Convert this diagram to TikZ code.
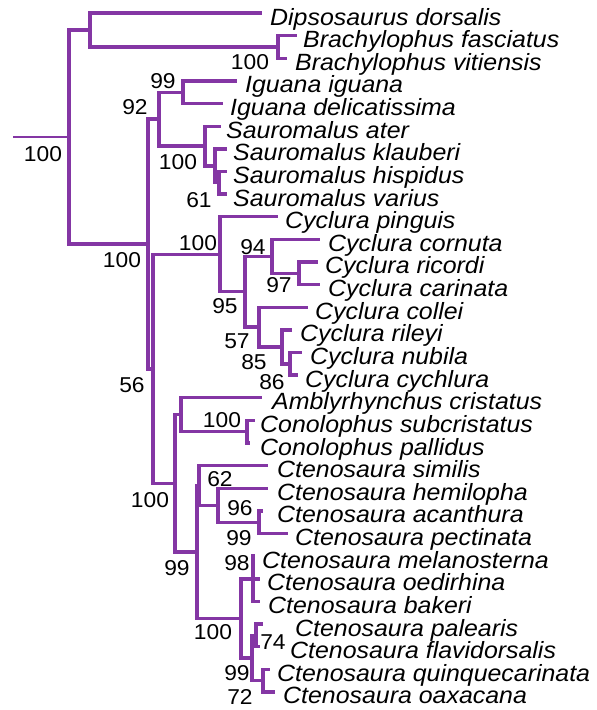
\documentclass[tikz,border=0pt]{standalone}
\usepackage{fontspec}
\setmainfont{Liberation Sans}
\newfontfamily\taxfont{Liberation Sans}[FakeStretch=1.06]
\usepackage{xcolor}
\definecolor{TPurple}{HTML}{8436A4}
\tikzset{
  branch/.style={draw=TPurple,line width=3.4pt},
  taxlbl/.style={anchor=base west,inner sep=0pt,font=\taxfont\fontsize{23.5}{23.5}\selectfont\itshape},
  bslbl/.style={inner sep=0pt,font=\taxfont\fontsize{21.5}{21.5}\selectfont}}
% tip coordinate + species label
\newcommand{\taxon}[5]{%
  \coordinate (t-#1) at (#2,#3);
  \node[taxlbl] (n-#1) at (#4,#3+12) {#5};}

\begin{document}
\begin{tikzpicture}[x=1pt,y=-1pt]
  \useasboundingbox (0,0) rectangle (597,710);
  % internal nodes
  \coordinate (base) at (13,137.0);
  \coordinate (root) at (69,137.0);
  \coordinate (nA) at (90,30.0);
  \coordinate (nBrach) at (278,47.0);
  \coordinate (nB) at (148,243.9);
  \coordinate (n92) at (159,119.1);
  \coordinate (nIg) at (183,92.2);
  \coordinate (nSau) at (205,146.0);
  \coordinate (nSsub) at (215,165.8);
  \coordinate (nS61) at (219,182.7);
  \coordinate (n56) at (153,368.8);
  \coordinate (nCyc) at (220,254.2);
  \coordinate (nC95) at (245,291.7);
  \coordinate (nC94) at (272,256.3);
  \coordinate (nC97) at (299,273.3);
  \coordinate (nC57) at (259,327.0);
  \coordinate (nC85) at (282,346.8);
  \coordinate (nC86) at (290,363.8);
  \coordinate (nAMC) at (175,483.3);
  \coordinate (nAC) at (181,414.7);
  \coordinate (nCon) at (247,431.7);
  \coordinate (nCt99) at (197,551.9);
  \coordinate (nCtS) at (199,485.4);
  \coordinate (nCt62) at (218,505.2);
  \coordinate (nCt96) at (259,522.2);
  \coordinate (nCt100) at (241,618.4);
  \coordinate (nCt98) at (253,578.8);
  \coordinate (nCt99b) at (252,658.0);
  \coordinate (nCt74) at (256,635.3);
  \coordinate (nCt72) at (263,680.6);
  % tips
  \taxon{dip}{262}{13.0}{270}{Dipsosaurus dorsalis}
  \taxon{bfa}{297}{35.6}{303}{Brachylophus fasciatus}
  \taxon{bvi}{287}{58.3}{295}{Brachylophus vitiensis}
  \taxon{iig}{237}{80.9}{245}{Iguana iguana}
  \taxon{ide}{223}{103.5}{230}{Iguana delicatissima}
  \taxon{sat}{221}{126.2}{226}{Sauromalus ater}
  \taxon{skl}{227}{148.8}{233}{Sauromalus klauberi}
  \taxon{shi}{227}{171.4}{233}{Sauromalus hispidus}
  \taxon{sva}{227}{194.0}{233}{Sauromalus varius}
  \taxon{cpi}{278}{216.7}{285}{Cyclura pinguis}
  \taxon{cco}{320}{239.3}{328}{Cyclura cornuta}
  \taxon{cri}{318}{261.9}{325}{Cyclura ricordi}
  \taxon{cca}{320}{284.6}{328}{Cyclura carinata}
  \taxon{col}{308}{307.2}{315}{Cyclura collei}
  \taxon{ril}{292}{329.8}{300}{Cyclura rileyi}
  \taxon{cnu}{302}{352.4}{310}{Cyclura nubila}
  \taxon{ccy}{298}{375.1}{305}{Cyclura cychlura}
  \taxon{amb}{262}{397.7}{272}{Amblyrhynchus cristatus}
  \taxon{csu}{255}{420.3}{260}{Conolophus subcristatus}
  \taxon{cpa}{250}{443.0}{260}{Conolophus pallidus}
  \taxon{sim}{268}{465.6}{277}{Ctenosaura similis}
  \taxon{hem}{268}{488.2}{277}{Ctenosaura hemilopha}
  \taxon{aca}{263}{510.9}{277}{Ctenosaura acanthura}
  \taxon{pec}{288}{533.5}{295}{Ctenosaura pectinata}
  \taxon{mel}{255}{556.1}{262}{Ctenosaura melanosterna}
  \taxon{oed}{260}{578.8}{267}{Ctenosaura oedirhina}
  \taxon{bak}{260}{601.4}{268}{Ctenosaura bakeri}
  \taxon{pal}{263}{624.0}{295}{Ctenosaura palearis}
  \taxon{fla}{260}{646.6}{290}{Ctenosaura flavidorsalis}
  \taxon{qui}{270}{669.3}{277}{Ctenosaura quinquecarinata}
  \taxon{oax}{275}{691.9}{283}{Ctenosaura oaxacana}
  % branches
  \draw[branch,line width=2pt] (base) -- (root);
  \draw[branch] (root) |- (nA);
  \draw[branch] (root) |- (nB);
  \draw[branch] (nA) |- (t-dip);
  \draw[branch] (nA) |- (nBrach);
  \draw[branch] (nBrach) |- (t-bfa);
  \draw[branch] (nBrach) |- (t-bvi);
  \draw[branch] (nB) |- (n92);
  \draw[branch] (nB) |- (n56);
  \draw[branch] (n92) |- (nIg);
  \draw[branch] (n92) |- (nSau);
  \draw[branch] (nIg) |- (t-iig);
  \draw[branch] (nIg) |- (t-ide);
  \draw[branch] (nSau) |- (t-sat);
  \draw[branch] (nSau) |- (nSsub);
  \draw[branch] (nSsub) |- (t-skl);
  \draw[branch] (nSsub) |- (nS61);
  \draw[branch] (nS61) |- (t-shi);
  \draw[branch] (nS61) |- (t-sva);
  \draw[branch] (n56) |- (nCyc);
  \draw[branch] (n56) |- (nAMC);
  \draw[branch] (nCyc) |- (t-cpi);
  \draw[branch] (nCyc) |- (nC95);
  \draw[branch] (nC95) |- (nC94);
  \draw[branch] (nC95) |- (nC57);
  \draw[branch] (nC94) |- (t-cco);
  \draw[branch] (nC94) |- (nC97);
  \draw[branch] (nC97) |- (t-cri);
  \draw[branch] (nC97) |- (t-cca);
  \draw[branch] (nC57) |- (t-col);
  \draw[branch] (nC57) |- (nC85);
  \draw[branch] (nC85) |- (t-ril);
  \draw[branch] (nC85) |- (nC86);
  \draw[branch] (nC86) |- (t-cnu);
  \draw[branch] (nC86) |- (t-ccy);
  \draw[branch] (nAMC) |- (nAC);
  \draw[branch] (nAMC) |- (nCt99);
  \draw[branch] (nAC) |- (t-amb);
  \draw[branch] (nAC) |- (nCon);
  \draw[branch] (nCon) |- (t-csu);
  \draw[branch] (nCon) |- (t-cpa);
  \draw[branch] (nCt99) |- (nCtS);
  \draw[branch] (nCt99) |- (nCt100);
  \draw[branch] (nCtS) |- (t-sim);
  \draw[branch] (nCtS) |- (nCt62);
  \draw[branch] (nCt62) |- (t-hem);
  \draw[branch] (nCt62) |- (nCt96);
  \draw[branch] (nCt96) |- (t-aca);
  \draw[branch] (nCt96) |- (t-pec);
  \draw[branch] (nCt100) |- (nCt98);
  \draw[branch] (nCt100) |- (nCt99b);
  \draw[branch] (nCt98) |- (t-mel);
  \draw[branch] (nCt98) |- (t-oed);
  \draw[branch] (nCt98) |- (t-bak);
  \draw[branch] (nCt99b) |- (nCt74);
  \draw[branch] (nCt99b) |- (nCt72);
  \draw[branch] (nCt74) |- (t-pal);
  \draw[branch] (nCt74) |- (t-fla);
  \draw[branch] (nCt72) |- (t-qui);
  \draw[branch] (nCt72) |- (t-oax);
  % bootstrap values
  \node[bslbl] (b-root) at (43,154) {100};
  \node[bslbl] (b-brach) at (250,62) {100};
  \node[bslbl] (b-ig) at (163,81) {99};
  \node[bslbl] (b-92) at (135,107) {92};
  \node[bslbl] (b-sau) at (178,162) {100};
  \node[bslbl] (b-61) at (199,200) {61};
  \node[bslbl] (b-B) at (122,260) {100};
  \node[bslbl] (b-cyc) at (198,243) {100};
  \node[bslbl] (b-94) at (253,247) {94};
  \node[bslbl] (b-97) at (279,285) {97};
  \node[bslbl] (b-95) at (225,306) {95};
  \node[bslbl] (b-57) at (237,341) {57};
  \node[bslbl] (b-85) at (254,362) {85};
  \node[bslbl] (b-86) at (272,382) {86};
  \node[bslbl] (b-56) at (132,385) {56};
  \node[bslbl] (b-con) at (222,420) {100};
  \node[bslbl] (b-amc) at (150,500) {100};
  \node[bslbl] (b-62) at (220,479) {62};
  \node[bslbl] (b-96) at (240,508) {96};
  \node[bslbl] (b-99c) at (239,538) {99};
  \node[bslbl] (b-ct99) at (177,568) {99};
  \node[bslbl] (b-98) at (237,563) {98};
  \node[bslbl] (b-ct100) at (213,632) {100};
  \node[bslbl] (b-74) at (273,642) {74};
  \node[bslbl] (b-99b) at (237,673) {99};
  \node[bslbl] (b-72) at (240,697) {72};
\end{tikzpicture}
\end{document}
